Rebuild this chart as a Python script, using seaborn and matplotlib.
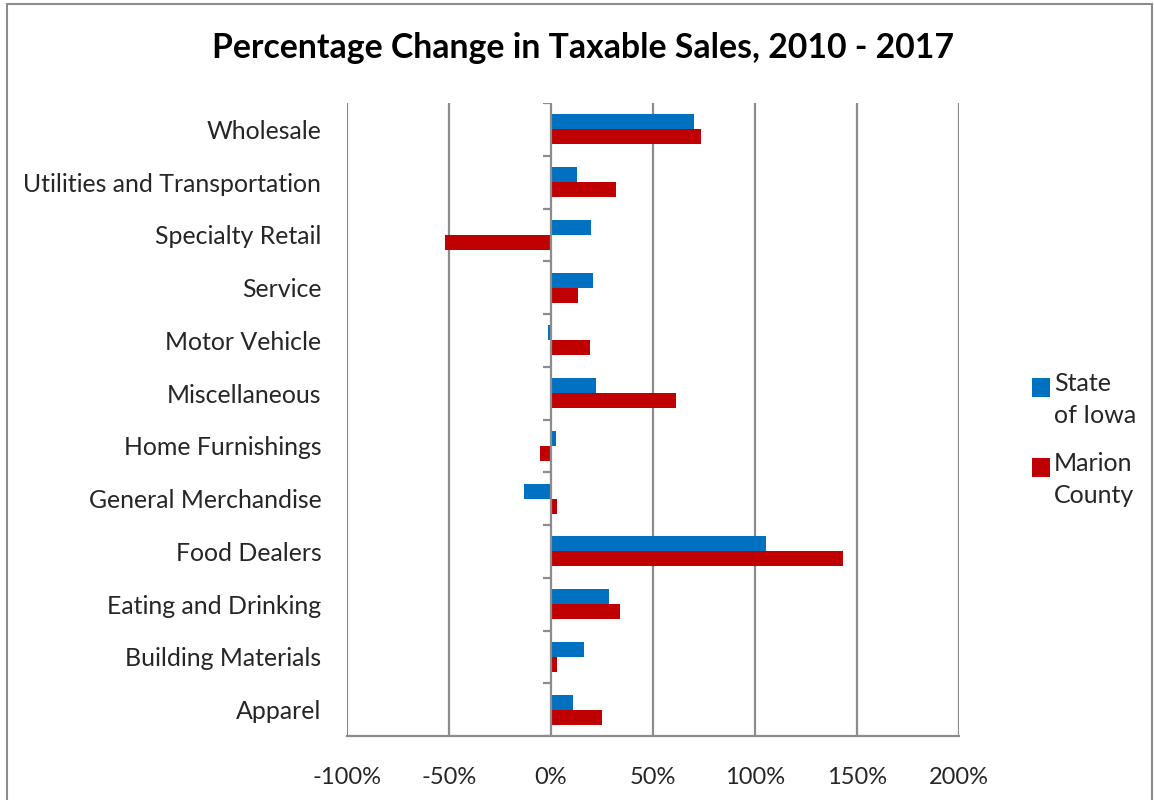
import numpy as np
import pandas as pd
import matplotlib
matplotlib.use("Agg")
import matplotlib.pyplot as plt
import seaborn as sns
from matplotlib.patches import Rectangle
from matplotlib.legend_handler import HandlerPatch

categories = ["Wholesale", "Utilities and Transportation", "Specialty Retail", "Service",
              "Motor Vehicle", "Miscellaneous", "Home Furnishings", "General Merchandise",
              "Food Dealers", "Eating and Drinking", "Building Materials", "Apparel"]
state_of_iowa = [70, 12.5, 19.5, 20.6, -1.3, 21.9, 2.3, -13.3, 105.2, 28.4, 16.3, 10.8]
marion_county = [73.7, 31.7, -51.8, 13.3, 19.3, 61.4, -5.5, 3.1, 143.2, 33.8, 3.1, 25.1]
series_names = ["State\nof Iowa", "Marion\nCounty"]
xticks = [-100, -50, 0, 50, 100, 150, 200]
xtick_labels = ["-100%", "-50%", "0%", "50%", "100%", "150%", "200%"]
title = "Percentage Change in Taxable Sales, 2010 - 2017"

df = pd.DataFrame({
    "category": categories * 2,
    "value": state_of_iowa + marion_county,
    "series": [series_names[0]] * len(categories) + [series_names[1]] * len(categories),
})

sns.set_theme(style="white")
plt.rcParams["font.family"] = ["Lato", "DejaVu Sans"]

fig = plt.figure(figsize=(11.54, 8), dpi=100)
ax = fig.add_axes([347 / 1154, 1 - 736 / 800, (959 - 347) / 1154, (736 - 103) / 800])

grid_c = "#8c8c8c"
for xv in xticks:
    if xv != 0:
        ax.axvline(xv, color=grid_c, lw=1.6, zorder=0)

sns.barplot(data=df, y="category", x="value", hue="series", order=categories,
            hue_order=series_names, palette=["#0070C0", "#C00000"], width=0.57,
            saturation=1, orient="h", ax=ax, zorder=3, edgecolor="none")

ax.set_xlim(-100, 200)
ax.set_ylim(len(categories) - 0.5, -0.5)
ax.set_xticks(xticks)
ax.set_xticklabels(xtick_labels, fontsize=17)
ax.set_xlabel("")
ax.set_ylabel("")
ax.tick_params(axis="x", direction="out", length=8, width=1.4, color=grid_c, pad=14)
ax.tick_params(axis="y", length=0, pad=18.5, labelsize=17.9)

for s in ["top", "right", "left"]:
    ax.spines[s].set_visible(False)
ax.spines["bottom"].set_color(grid_c)
ax.spines["bottom"].set_linewidth(1.6)

# category axis at zero with boundary ticks
ax.axvline(0, color=grid_c, lw=1.6, zorder=4)
bounds = np.arange(-0.5, len(categories), 1.0)
ax.hlines(bounds, -4, 0, color=grid_c, lw=1.6, zorder=4)


def top_square(legend, orig_handle, xdescent, ydescent, width, height, fontsize):
    return Rectangle((-xdescent, -ydescent + 9.5), width, height)


handles, labels = ax.get_legend_handles_labels()
leg = ax.legend(handles, labels, loc="upper left", bbox_to_anchor=(1.082, 0.61), frameon=False,
                fontsize=18, handlelength=0.75, handleheight=0.75, handletextpad=0.15,
                labelspacing=1.0,
                handler_map={type(handles[0]): HandlerPatch(patch_func=top_square)})
for t in leg.get_texts():
    t.set_linespacing(1.47)

fig.text(583 / 1154, 1 - 48 / 800, title, ha="center", va="center",
         fontsize=24.3, fontweight="bold", color="black")

fig.patches.append(Rectangle((7 / 1154, -0.01), (1152 - 7) / 1154, 1.01 - 4 / 800,
                             transform=fig.transFigure, fill=False,
                             edgecolor="#8c8c8c", lw=1.5))

fig.savefig("out.png", dpi=100)
